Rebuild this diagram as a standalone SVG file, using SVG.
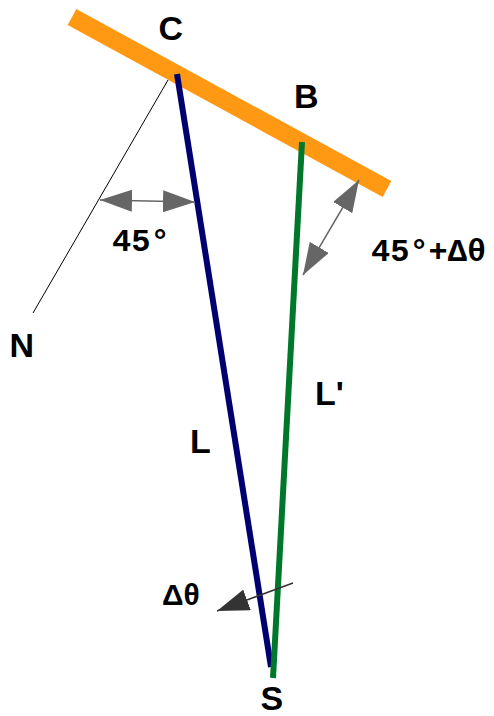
<svg xmlns="http://www.w3.org/2000/svg" width="494" height="716" viewBox="0 0 494 716">
<defs>
<style>
.lbl{font-family:"Liberation Sans",Arial,sans-serif;font-weight:bold;font-size:34px;fill:#000}
.ang{font-family:"Liberation Mono","Courier New",monospace;font-weight:bold;font-size:32px;fill:#000}
.arr{stroke:#666;stroke-width:1.5;fill:none}
</style>
<marker id="ah" markerUnits="userSpaceOnUse" markerWidth="32" markerHeight="22" refX="32" refY="11" orient="auto-start-reverse" viewBox="0 0 32 22">
<path d="M0,0 L32,11 L0,22 z" fill="#666"/>
</marker>
<marker id="ahd" markerUnits="userSpaceOnUse" markerWidth="32" markerHeight="22" refX="32" refY="11" orient="auto" viewBox="0 0 32 22">
<path d="M0,0 L32,11 L0,22 z" fill="#333"/>
</marker>
</defs>
<rect width="494" height="716" fill="#fff"/>
<g id="mirror">
<line x1="72" y1="17" x2="387" y2="189" stroke="#FF9914" stroke-width="18"/>
</g>
<g id="connectors">
<line id="normal" x1="168" y1="80" x2="33" y2="313" stroke="#000" stroke-width="1"/>
<line id="beamL" x1="177" y1="74" x2="271" y2="667" stroke="#000070" stroke-width="6"/>
<line id="beamLp" x1="302" y1="142" x2="273" y2="678" stroke="#00782A" stroke-width="6"/>
<line id="arr45" class="arr" x1="100" y1="200" x2="195" y2="202" marker-start="url(#ah)" marker-end="url(#ah)"/>
<line id="arr45d" class="arr" x1="359" y1="180" x2="303" y2="275" marker-start="url(#ah)" marker-end="url(#ah)"/>
<line id="arrd" x1="293" y1="583" x2="217" y2="611" stroke="#333" stroke-width="1.5" marker-end="url(#ahd)"/>
</g>
<g id="C"><text class="lbl" x="158.5" y="40">C</text></g>
<g id="B"><text class="lbl" x="294" y="108">B</text></g>
<g id="N"><text class="lbl" x="9.5" y="357">N</text></g>
<g id="L"><text class="lbl" x="190" y="453">L</text></g>
<g id="Lp"><text class="lbl" x="315" y="405">L'</text></g>
<g id="S"><text class="lbl" x="260.5" y="710">S</text></g>
<g id="dtheta"><text class="lbl" x="162" y="605" style="font-size:30px">Δθ</text></g>
<g id="a45"><text class="ang" x="112" y="251">45°</text></g>
<g id="a45d"><text class="ang" x="371" y="261">45°+Δθ</text></g>
</svg>
